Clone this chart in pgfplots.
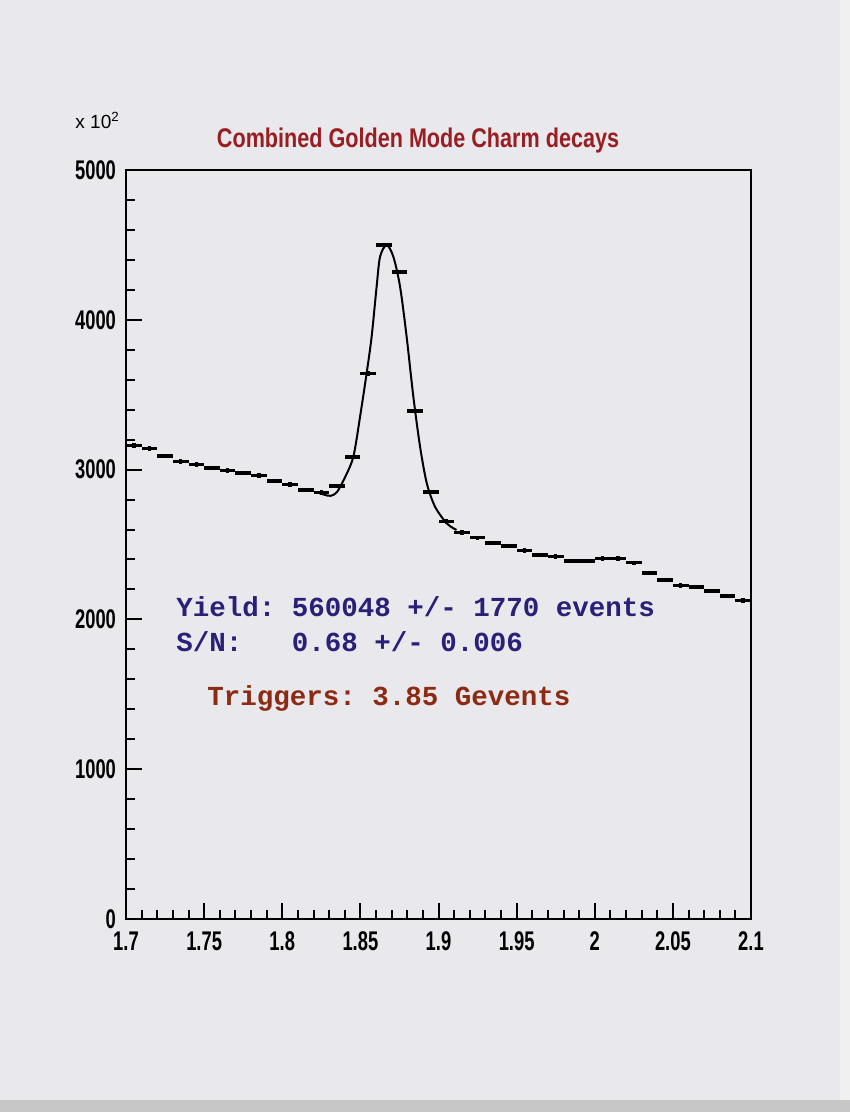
\documentclass[border=0pt]{standalone}
\usepackage{pgfplots}
\pgfplotsset{compat=1.18}
\usepackage{fontspec}
\setmainfont{Liberation Sans}
\newfontfamily\condfont{Liberation Sans}[FakeStretch=0.68]
\newfontfamily\titlefont{Liberation Sans}[FakeStretch=0.80]
\newfontfamily\typefont{Liberation Mono}
\definecolor{paper}{HTML}{E8E8ED}
\definecolor{titlered}{HTML}{981E22}
\definecolor{navy}{HTML}{2A2078}
\definecolor{brickred}{HTML}{8C2A12}

\pgfplotstableread{
x y
1.705 3160
1.715 3140
1.725 3090
1.735 3055
1.745 3035
1.755 3010
1.765 2995
1.775 2978
1.785 2960
1.795 2925
1.805 2900
1.815 2865
1.825 2848
1.835 2890
1.845 3085
1.855 3640
1.865 4500
1.875 4320
1.885 3390
1.895 2850
1.905 2655
1.915 2580
1.925 2545
1.935 2510
1.945 2490
1.955 2460
1.965 2430
1.975 2420
1.985 2390
1.995 2390
2.005 2405
2.015 2405
2.025 2378
2.035 2310
2.045 2263
2.055 2225
2.065 2215
2.075 2190
2.085 2155
2.095 2127
}\histdata

\begin{document}
\begin{tikzpicture}
\fill[paper] (-63pt,-96.5pt) rectangle (362pt,459.5pt);
\fill[black!22] (-63pt,-96.5pt) rectangle (362pt,-90.5pt);
\fill[black!6] (357pt,-90.5pt) rectangle (362pt,459.5pt);
\begin{axis}[
  at={(0pt,0pt)}, anchor=south west,
  width=312.5pt, height=374.5pt, scale only axis,
  xmin=1.7, xmax=2.1, ymin=0, ymax=5000,
  clip=false,
  scaled y ticks=false, scaled x ticks=false,
  xtick={1.7,1.75,...,2.1},
  xticklabels={1.7,1.75,1.8,1.85,1.9,1.95,2,2.05,2.1},
  ytick={0,1000,...,5000},
  minor x tick num=4, minor y tick num=4,
  tick pos=left,
  tick align=inside,
  major tick length=8pt, minor tick length=4.5pt,
  tick style={line width=1pt, black},
  axis line style={line width=1.3pt},
  /pgf/number format/1000 sep={},
  /pgf/number format/assume math mode=true,
  ticklabel style={font=\condfont\bfseries\fontsize{13.5}{13.5}\selectfont},
  xticklabel style={yshift=-3pt},
  yticklabel style={xshift=-1.5pt},
]
\addplot[draw=none, mark=none,
  error bars/.cd, x dir=both, x fixed=0.005, y dir=both, y fixed=15,
  error mark=none,
  error bar style={line width=1.7pt, black}]
  table[x=x, y=y] {\histdata};

\addplot[smooth, black, line width=1pt] coordinates {
(1.822,2850) (1.827,2832) (1.831,2825) (1.835,2850) (1.840,2945)
(1.8455,3086) (1.8498,3353) (1.854,3643) (1.8572,3887) (1.8604,4221)
(1.8626,4421) (1.8668,4499) (1.8711,4421) (1.8754,4221) (1.8796,3887)
(1.8839,3487) (1.8882,3153) (1.8925,2909) (1.8978,2752) (1.9053,2641)
(1.9115,2597)
};

\node[anchor=base, text=titlered, font=\titlefont\bfseries\fontsize{13.5}{13.5}\selectfont]
  at (axis cs:1.8869,5148) {Combined Golden Mode Charm decays};
\node[anchor=base west, inner sep=0pt, font=\fontsize{9.5}{9.5}\selectfont]
  at (axis cs:1.6674,5274) {x 10\textsuperscript{2}};

\node[anchor=base west, inner sep=0pt, text=navy, font=\typefont\bfseries\fontsize{13.75}{13.75}\selectfont]
  at (axis cs:1.732,2018) {Yield:\ 560048\ +/-\ 1770\ events};
\node[anchor=base west, inner sep=0pt, text=navy, font=\typefont\bfseries\fontsize{13.75}{13.75}\selectfont]
  at (axis cs:1.732,1784) {S/N:\ \ \ 0.68\ +/-\ 0.006};
\node[anchor=base west, inner sep=0pt, text=brickred, font=\typefont\bfseries\fontsize{13.75}{13.75}\selectfont]
  at (axis cs:1.7518,1428) {Triggers:\ 3.85\ Gevents};
\end{axis}
\end{tikzpicture}
\end{document}
